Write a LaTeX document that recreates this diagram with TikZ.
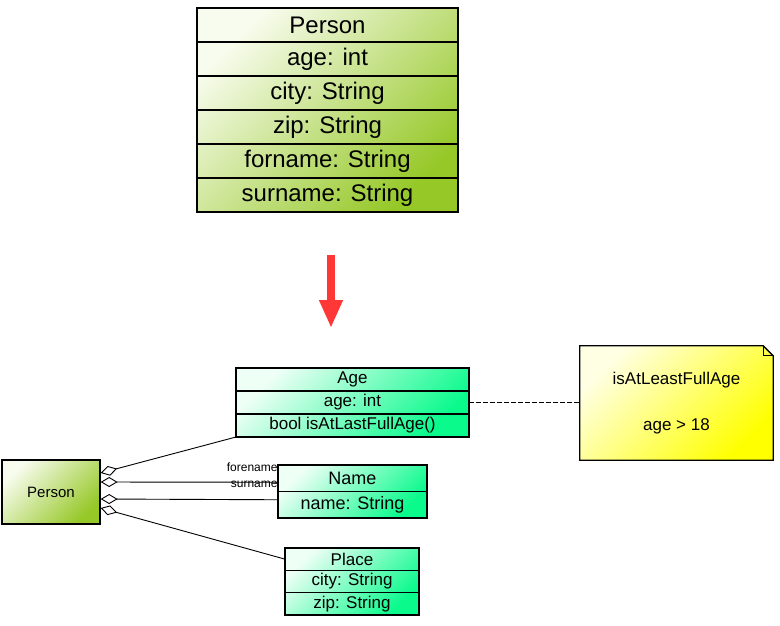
\documentclass[tikz,border=0pt]{standalone}
\usepackage{fontspec}
\setmainfont{Liberation Sans}
\usetikzlibrary{arrows.meta,positioning,calc,backgrounds}
\definecolor{greenLight}{RGB}{248,252,238}
\definecolor{greenDark}{RGB}{150,200,40}
\definecolor{mintLight}{RGB}{238,255,246}
\definecolor{mintDark}{RGB}{10,250,140}
\definecolor{noteLight}{RGB}{255,255,228}
\definecolor{noteDark}{RGB}{255,255,0}
\definecolor{arrowRed}{RGB}{255,55,55}
\tikzstyle{row} = [draw, line width=1.3pt, inner sep=0pt, outer sep=0pt]
\tikzstyle{aggr} = [line width=0.9pt, {Diamond[open,length=17pt,width=10pt]}-]

\begin{document}
\begin{tikzpicture}[x=1pt,y=-1pt]
\tikzset{bigrow/.style={row,minimum width=261pt,minimum height=34pt,font=\fontsize{24}{28}\selectfont},
  agerow/.style={row,minimum width=233pt,minimum height=23pt,font=\fontsize{17}{20}\selectfont},
  namerow/.style={row,minimum width=149pt,minimum height=26.5pt,font=\fontsize{18}{21}\selectfont},
  placerow/.style={row,minimum width=134pt,minimum height=22.3pt,font=\fontsize{17}{20}\selectfont},
  greenfill/.style={top color=greenLight,bottom color=greenDark,shading angle=45},
  mintfill/.style={top color=mintLight,bottom color=mintDark,shading angle=45},
  notefill/.style={top color=noteLight,bottom color=noteDark,shading angle=45},
  lbl/.style={font=\fontsize{12}{14}\selectfont,inner sep=0pt,anchor=east}}
\useasboundingbox (0,0) rectangle (780,625);

% class before the split
\node[bigrow,anchor=north] (top0) at (327.5,8) {Person};
\foreach \t [count=\i, remember=\i as \j (initially 0)] in {age: int,city: String,zip: String,forname: String,surname: String} {
\node[bigrow,below=0pt of top\j] (top\i) {\t}; }

% split arrow
\coordinate (arrTail) at (331,255);
\coordinate (arrHead) at (331,328);
\draw[draw=arrowRed,line width=8pt,-{Triangle[length=28pt,width=22pt]}] (arrTail) -- (arrHead);

% value classes
\node[agerow,anchor=north] (age1) at (352.5,368) {Age};
\node[agerow,below=0pt of age1] (age2) {age: int};
\node[agerow,below=0pt of age2] (age3) {bool isAtLastFullAge()};

\node[namerow,anchor=north] (name1) at (352.5,465) {Name};
\node[namerow,below=0pt of name1] (name2) {name: String};

\node[placerow,anchor=north] (place1) at (352,548) {Place};
\node[placerow,below=0pt of place1] (place2) {city: String};
\node[placerow,below=0pt of place2] (place3) {zip: String};

\node[draw,line width=1.3pt,greenfill,minimum width=98pt,minimum height=64pt,font=\fontsize{15}{18}\selectfont] (pers) at (51,492) {Person};

\node[minimum width=193pt,minimum height=114pt,align=center,font=\fontsize{17}{20}\selectfont] (note) at (676.5,403) {isAtLeastFullAge\\[26pt]age > 18};

\begin{scope}[on background layer]
\shade[greenfill] (top0.north west) rectangle (top5.south east);
\shade[mintfill] (age1.north west) rectangle (age3.south east);
\shade[mintfill] (name1.north west) rectangle (name2.south east);
\shade[mintfill] (place1.north west) rectangle (place3.south east);
\shadedraw[notefill,line width=1.3pt] (note.north west) -- ([xshift=-10pt]note.north east) -- ([yshift=-10pt]note.north east) -- (note.south east) -- (note.south west) -- cycle;
\draw[line width=0.8pt] ([xshift=-10pt]note.north east) |- ([yshift=-10pt]note.north east);
\end{scope}

% aggregations
\draw[aggr] ([yshift=19pt]pers.east) -- (age3.south west);
\draw[aggr] ([yshift=10pt]pers.east) -- ([yshift=-4pt]name1.west) node[lbl,yshift=15pt] {forename};
\draw[aggr] ([yshift=-7pt]pers.east) -- ([yshift=5pt]name2.west) node[lbl,yshift=15pt] {surname};
\draw[aggr] ([yshift=-16pt]pers.east) -- (place1.west);

\draw[line width=0.9pt,dash pattern=on 5pt off 2pt] (age2.east) -- (age2.east -| note.west);
\end{tikzpicture}
\end{document}
